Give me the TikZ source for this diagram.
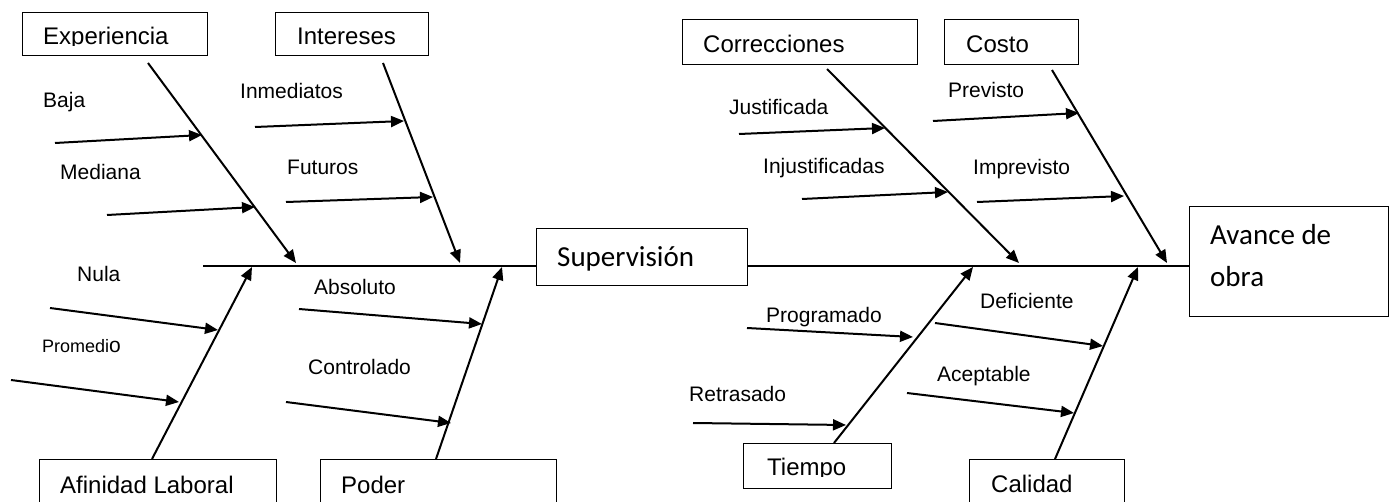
\documentclass[tikz,border=0pt]{standalone}
\usepackage{fontspec}
\setmainfont{Liberation Sans}
\newfontfamily\calibri{Carlito}
\usetikzlibrary{arrows.meta}
\begin{document}
\begin{tikzpicture}[x=1pt,y=-1pt,
  box/.style={draw,line width=1.3pt,inner sep=0pt,anchor=north west},
  arr/.style={line width=2pt,-{Triangle[length=13pt,width=11pt]}},
  lbl/.style={anchor=base west,inner sep=0pt,font=\fontsize{21}{25}\selectfont},
  ttl/.style={anchor=base west,inner sep=0pt,font=\fontsize{24}{28}\selectfont},
  big/.style={anchor=base west,inner sep=0pt,font=\calibri\fontsize{29}{35}\selectfont},
  spine/.style={line width=1.3pt}]
\useasboundingbox (0,0) rectangle (1395,502);
\clip (0,0) rectangle (1395,502);

% boxes
\node[box,minimum width=185pt,minimum height=43pt] (exp) at (22,12) {};
\node[box,minimum width=153pt,minimum height=43pt] (int) at (275,12) {};
\node[box,minimum width=235pt,minimum height=45pt] (cor) at (682,19) {};
\node[box,minimum width=134pt,minimum height=45pt] (cos) at (944,19) {};
\node[box,minimum width=211pt,minimum height=57pt] (sup) at (536,228) {};
\node[box,minimum width=199pt,minimum height=110pt] (ava) at (1189,206) {};
\node[box,minimum width=237pt,minimum height=70pt] (afi) at (39,459) {};
\node[box,minimum width=236pt,minimum height=70pt] (pod) at (320,459) {};
\node[box,minimum width=148pt,minimum height=45pt] (tie) at (743,443) {};
\node[box,minimum width=155pt,minimum height=70pt] (cal) at (969,459) {};

% box titles
\begin{scope}
\clip (22,12) rectangle (207,46);
\node[ttl] (expt) at (43,45) {Experiencia};
\end{scope}
\node[ttl] (intt) at (297,45) {Intereses};
\node[ttl] (cort) at (703,53) {Correcciones};
\node[ttl] (cost) at (966,53) {Costo};
\node[big] (supt) at (557,267) {Supervisión};
\node[big] (avat1) at (1210,245) {Avance de};
\node[big] (avat2) at (1210,287) {obra};
\node[ttl] (afit) at (60,493) {Afinidad Laboral};
\node[ttl] (podt) at (341,493) {Poder};
\begin{scope}
\clip (743,443) rectangle (891,476);
\node[ttl] (tiet) at (767,475) {Tiempo};
\end{scope}
\node[ttl] (calt) at (991,492) {Calidad};

% spine
\coordinate (spL) at (203,266);
\draw[spine] (spL) -- (spL -| sup.west);
\draw[spine] (sup.east |- spL) -- (spL -| ava.west);

% main bones
\coordinate (expS) at (148,63);   \coordinate (expT) at (296,263);
\coordinate (intS) at (383,63);   \coordinate (intT) at (460,263);
\coordinate (afiS) at (152,459);  \coordinate (afiT) at (252,267);
\coordinate (podS) at (436,459);  \coordinate (podT) at (502,267);
\coordinate (corS) at (827,69);   \coordinate (corT) at (1019,263);
\coordinate (cosS) at (1052,70);  \coordinate (cosT) at (1167,263);
\coordinate (tieS) at (834,443);  \coordinate (tieT) at (973,267);
\coordinate (calS) at (1055,459); \coordinate (calT) at (1138,267);
\draw[arr] (expS) -- (expT);
\draw[arr] (intS) -- (intT);
\draw[arr] (afiS) -- (afiT);
\draw[arr] (podS) -- (podT);
\draw[arr] (corS) -- (corT);
\draw[arr] (cosS) -- (cosT);
\draw[arr] (tieS) -- (tieT);
\draw[arr] (calS) -- (calT);

% sub causes: labels
\node[lbl] (baja) at (43,108) {Baja};
\node[lbl] (medi) at (60,180) {Mediana};
\node[lbl] (inme) at (240,99) {Inmediatos};
\node[lbl] (futu) at (287,175) {Futuros};
\node[lbl] (nula) at (77,282) {Nula};
\node[lbl] (prom) at (42,353) {\fontsize{18}{22}\selectfont Promedi\fontsize{21}{25}\selectfont o};
\node[lbl] (abso) at (314,295) {Absoluto};
\node[lbl] (cont) at (308,375) {Controlado};
\node[lbl] (just) at (729,115) {Justificada};
\node[lbl] (inju) at (763,174) {Injustificadas};
\node[lbl] (prev) at (948,98) {Previsto};
\node[lbl] (impr) at (973,175) {Imprevisto};
\node[lbl] (prog) at (766,323) {Programado};
\node[lbl] (retr) at (689,402) {Retrasado};
\node[lbl] (defi) at (980,309) {Deficiente};
\node[lbl] (acep) at (937,382) {Aceptable};

% sub cause arrows
\coordinate (bajaS) at (55,143);  \coordinate (bajaT) at (202,135);
\coordinate (mediS) at (107,215); \coordinate (mediT) at (255,207);
\coordinate (inmeS) at (255,127); \coordinate (inmeT) at (404,121);
\coordinate (futuS) at (286,202); \coordinate (futuT) at (433,197);
\coordinate (nulaS) at (50,308);  \coordinate (nulaT) at (218,330);
\coordinate (promS) at (11,380);  \coordinate (promT) at (179,402);
\coordinate (absoS) at (299,309); \coordinate (absoT) at (482,324);
\coordinate (contS) at (286,402); \coordinate (contT) at (451,423);
\coordinate (justS) at (739,134); \coordinate (justT) at (885,128);
\coordinate (injuS) at (802,199); \coordinate (injuT) at (948,192);
\coordinate (prevS) at (933,121); \coordinate (prevT) at (1079,113);
\coordinate (imprS) at (977,202); \coordinate (imprT) at (1124,196);
\coordinate (progS) at (747,328); \coordinate (progT) at (913,337);
\coordinate (retrS) at (693,423); \coordinate (retrT) at (846,425);
\coordinate (defiS) at (935,323); \coordinate (defiT) at (1103,346);
\coordinate (acepS) at (907,393); \coordinate (acepT) at (1074,413);
\foreach \n in {baja,medi,inme,futu,nula,prom,abso,cont,just,inju,prev,impr,prog,retr,defi,acep}
  \draw[arr] (\n S) -- (\n T);
\end{tikzpicture}
\end{document}
